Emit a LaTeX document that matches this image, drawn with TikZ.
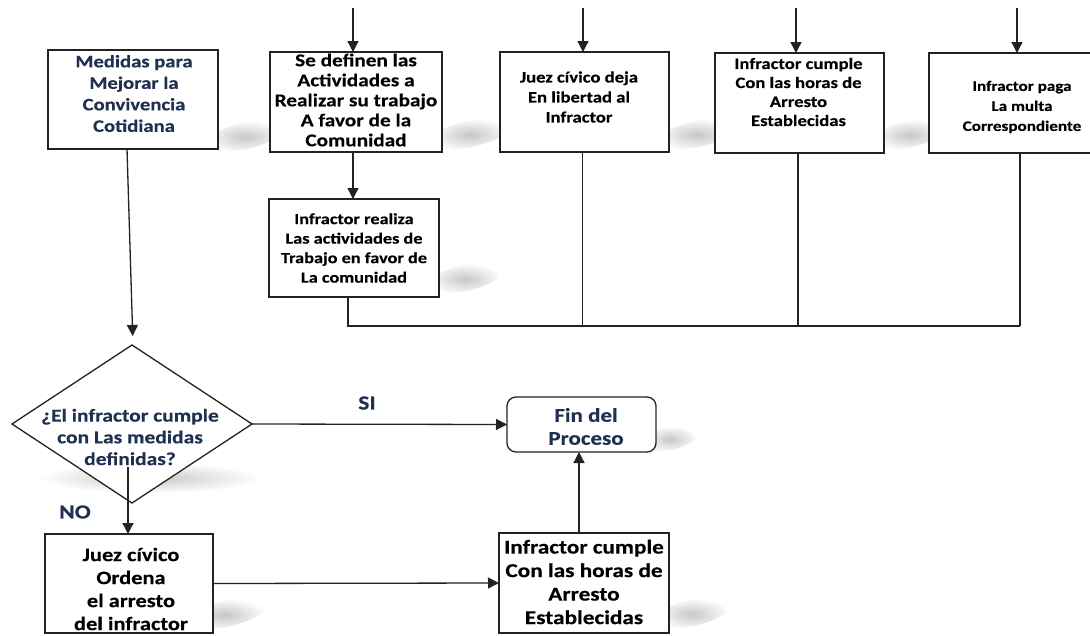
\documentclass[tikz,border=0pt]{standalone}
\usepackage{fontspec}
\setmainfont{Carlito}[FakeStretch=1.18,BoldFeatures={FakeBold=0.3}]
\usetikzlibrary{arrows.meta,shapes.geometric,calc}
\definecolor{navy}{HTML}{1F3050}
\definecolor{edge}{HTML}{222222}
\newcommand{\fsz}[2]{\fontsize{#1}{#2}\selectfont}
\begin{document}
\begin{tikzpicture}[x=1pt,y=-1pt,
  box/.style={draw=edge,line width=1.3pt,fill=white,inner sep=0pt,outer sep=0pt},
  txt/.style={align=center,inner sep=0pt},
  conn/.style={draw=edge,line width=1.3pt},
  arr/.style={conn,-{Triangle[width=11pt,length=11pt]}},
  shd/.style={inner color=black!22,outer color=white}]
\useasboundingbox (0,0) rectangle (1090,635);
\clip (0,0) rectangle (1090,635);
\fill[white] (0,0) rectangle (1090,635);

% shadows
\shade[shd,rotate around={12:(245,136)}] (245,136) ellipse [x radius=42,y radius=13];
\shade[shd,rotate around={12:(470,134)}] (470,134) ellipse [x radius=42,y radius=13];
\shade[shd,rotate around={12:(465,278)}] (465,278) ellipse [x radius=38,y radius=13];
\shade[shd,rotate around={12:(697,134)}] (697,134) ellipse [x radius=42,y radius=13];
\shade[shd,rotate around={12:(910,134)}] (910,134) ellipse [x radius=38,y radius=13];
\shade[shd] (150,478) ellipse [x radius=112,y radius=15];
\shade[shd,rotate around={12:(225,614)}] (225,614) ellipse [x radius=42,y radius=13];
\shade[shd,rotate around={12:(692,613)}] (692,613) ellipse [x radius=38,y radius=13];
\shade[shd,rotate around={12:(670,438)}] (670,438) ellipse [x radius=28,y radius=12];

% boxes
\node[box,minimum width=170pt,minimum height=99pt] (m) at (133,99.5) {};
\node[box,minimum width=172pt,minimum height=100pt] (b2) at (356,102) {};
\node[box,minimum width=170pt,minimum height=98pt] (b3) at (354,248) {};
\node[box,minimum width=169pt,minimum height=100pt] (b4) at (584.5,102) {};
\node[box,minimum width=169pt,minimum height=100pt] (b5) at (799.5,103) {};
\node[box,minimum width=171pt,minimum height=100pt] (b6) at (1014.5,103) {};
\node[box,shape=diamond,minimum width=240pt,minimum height=158pt] (d) at (132,424) {};
\node[box,minimum width=168pt,minimum height=99pt] (j) at (129,583.5) {};
\node[box,minimum width=170pt,minimum height=100pt] (k) at (584,583) {};
\node[box,rounded corners=9pt,minimum width=149pt,minimum height=55pt] (fin) at (581.5,424.5) {};

% connectors
\coordinate (c2) at (353,8);
\coordinate (c4) at (583,8);
\coordinate (c5) at (796,8);
\coordinate (c6) at (1017,8);
\coordinate (bus) at (1020,326);
\draw[arr] (c2) -- (c2 |- b2.north);
\draw[arr] (c4) -- (c4 |- b4.north);
\draw[arr] (c5) -- (c5 |- b5.north);
\draw[arr] (c6) -- (c6 |- b6.north);
\draw[arr] (b2.south -| c2) -- (b3.north -| c2);
\draw[conn] ($(b3.south)+(-6,0)$) |- (bus);
\draw[conn] ($(b4.south)+(-2.2,0)$) -- ($(b4.south |- bus)+(-2.2,0)$);
\draw[conn] ($(b5.south)+(-1.5,0)$) -- ($(b5.south |- bus)+(-1.5,0)$);
\draw[conn] (b6.south -| bus) -- (bus);
\draw[arr,shorten >=9pt] ($(m.south)+(-6,0)$) -- ($(d.north)+(1,0)$);
\draw[arr] (d.east) -- (fin.west);
\draw[arr] ($(d.south)+(-4,-36)$) -- ($(j.north)+(-1,0)$);
\draw[arr] (j.east) -- (k.west);
\draw[arr] ($(k.north)+(-5,0)$) -- ($(fin.south)+(-2.5,0)$);

% texts
\node[txt,text=navy,font=\bfseries\fsz{17.5}{21.5}] (tm) at (134,93.5) {Medidas para\\Mejorar la\\Convivencia\\Cotidiana};
\node[txt,font=\bfseries\fsz{18}{20}] (t2) at (356,100) {Se definen las\\Actividades a\\Realizar su trabajo\\A favor de la\\Comunidad};
\node[txt,font=\bfseries\fsz{15.5}{19.5}] (t3) at (354,248) {Infractor realiza\\Las actividades de\\Trabajo en favor de\\La comunidad};
\node[txt,font=\bfseries\fsz{15.8}{20}] (t4) at (579,97) {Juez cívico deja\\En libertad al\\Infractor};
\node[txt,font=\bfseries\fsz{15.8}{19}] (t5) at (798.5,92) {Infractor cumple\\Con las horas de\\Arresto\\Establecidas};
\node[txt,font=\bfseries\fsz{14.5}{20}] (t6) at (1022,107) {Infractor paga\\La multa\\Correspondiente};
\node[txt,text=navy,font=\bfseries\fsz{18.2}{21.7}] (td) at (130,437) {¿El infractor cumple\\con Las medidas\\definidas?};
\node[txt,font=\bfseries\fsz{19}{23}] (tj) at (131,589) {Juez cívico\\Ordena\\el arresto\\del infractor};
\node[txt,font=\bfseries\fsz{19.7}{23.5}] (tk) at (584,582) {Infractor cumple\\Con las horas de\\Arresto\\Establecidas};
\node[txt,text=navy,font=\bfseries\fsz{19.5}{23}] (tf) at (586,426.5) {Fin del\\Proceso};
\node[txt,text=navy,font=\bfseries\fsz{20}{24}] (si) at (367,403) {SI};
\node[txt,text=navy,font=\bfseries\fsz{20}{24}] (no) at (75,512) {NO};
\end{tikzpicture}
\end{document}
